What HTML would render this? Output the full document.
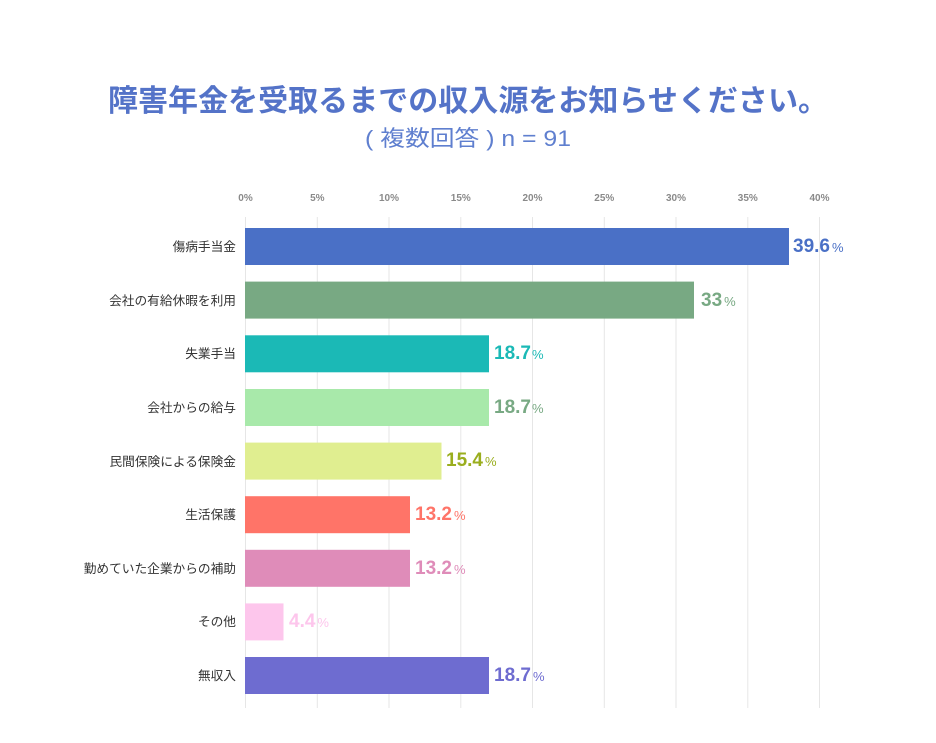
<!DOCTYPE html>
<html><head><meta charset="utf-8">
<style>
html,body{margin:0;padding:0;background:#fff;}
svg{display:block;}
</style></head>
<body>
<svg width="936" height="743" viewBox="0 0 936 743" xmlns="http://www.w3.org/2000/svg">
<rect width="936" height="743" fill="#fff"/>
<text x="108" y="111" textLength="720" lengthAdjust="spacingAndGlyphs" font-family="Liberation Sans, Noto Sans CJK JP, sans-serif" font-weight="bold" font-size="30" fill="#5473c8">障害年金を受取るまでの収入源をお知らせください。</text>
<text x="365" y="146" textLength="206" lengthAdjust="spacingAndGlyphs" font-family="Liberation Sans, Noto Sans CJK JP, sans-serif" font-size="22" fill="#5f7fcf">( 複数回答 ) n = 91</text>
<g stroke="#e6e6e6" stroke-width="1">
<line x1="245.5" y1="217" x2="245.5" y2="708"/>
<line x1="317.3" y1="217" x2="317.3" y2="708"/>
<line x1="389" y1="217" x2="389" y2="708"/>
<line x1="460.8" y1="217" x2="460.8" y2="708"/>
<line x1="532.5" y1="217" x2="532.5" y2="708"/>
<line x1="604.3" y1="217" x2="604.3" y2="708"/>
<line x1="676" y1="217" x2="676" y2="708"/>
<line x1="747.8" y1="217" x2="747.8" y2="708"/>
<line x1="819.5" y1="217" x2="819.5" y2="708"/>
</g>
<g font-family="Liberation Sans, sans-serif" font-weight="bold" font-size="10" fill="#8a8a8a" text-anchor="middle">
<text x="245.5" y="201">0%</text>
<text x="317.3" y="201">5%</text>
<text x="389" y="201">10%</text>
<text x="460.8" y="201">15%</text>
<text x="532.5" y="201">20%</text>
<text x="604.3" y="201">25%</text>
<text x="676" y="201">30%</text>
<text x="747.8" y="201">35%</text>
<text x="819.5" y="201">40%</text>
</g>
<g font-family="Liberation Sans, Noto Sans CJK JP, sans-serif" font-size="12.7" fill="#333" text-anchor="end">
<text x="236" y="251">傷病手当金</text>
<text x="236" y="305">会社の有給休暇を利用</text>
<text x="236" y="358">失業手当</text>
<text x="236" y="412">会社からの給与</text>
<text x="236" y="466">民間保険による保険金</text>
<text x="236" y="519">生活保護</text>
<text x="236" y="573">勤めていた企業からの補助</text>
<text x="236" y="626">その他</text>
<text x="236" y="680">無収入</text>
</g>
<rect x="245" y="228" width="544" height="37" fill="#4a70c6"/>
<rect x="245" y="281.6" width="449" height="37" fill="#78a983"/>
<rect x="245" y="335.3" width="244" height="37" fill="#1bb9b6"/>
<rect x="245" y="389" width="244" height="37" fill="#a8e9aa"/>
<rect x="245" y="442.6" width="196.5" height="37" fill="#e0ee90"/>
<rect x="245" y="496.2" width="165" height="37" fill="#ff7468"/>
<rect x="245" y="549.8" width="165" height="37" fill="#df8cb9"/>
<rect x="245" y="603.4" width="38.5" height="37" fill="#fdc6ec"/>
<rect x="245" y="657" width="244" height="37" fill="#6e6cd0"/>
<g font-family="Liberation Sans, sans-serif" font-weight="bold" font-size="19">
<text x="793" y="252" fill="#4a70c6">39.6<tspan font-size="13" font-weight="normal" dx="2">%</tspan></text>
<text x="701" y="306" fill="#78a983">33<tspan font-size="13" font-weight="normal" dx="2">%</tspan></text>
<text x="494" y="359" fill="#1bb9b6">18.7<tspan font-size="13" font-weight="normal" dx="1">%</tspan></text>
<text x="494" y="413" fill="#78a983">18.7<tspan font-size="13" font-weight="normal" dx="1">%</tspan></text>
<text x="446" y="466" fill="#9aae1e">15.4<tspan font-size="13" font-weight="normal" dx="2">%</tspan></text>
<text x="415" y="520" fill="#ff7468">13.2<tspan font-size="13" font-weight="normal" dx="2">%</tspan></text>
<text x="415" y="574" fill="#df8cb9">13.2<tspan font-size="13" font-weight="normal" dx="2">%</tspan></text>
<text x="289" y="627" fill="#fdc6ec">4.4<tspan font-size="13" font-weight="normal" dx="2">%</tspan></text>
<text x="494" y="681" fill="#6e6cd0">18.7<tspan font-size="13" font-weight="normal" dx="2">%</tspan></text>
</g>
</svg>
</body></html>
